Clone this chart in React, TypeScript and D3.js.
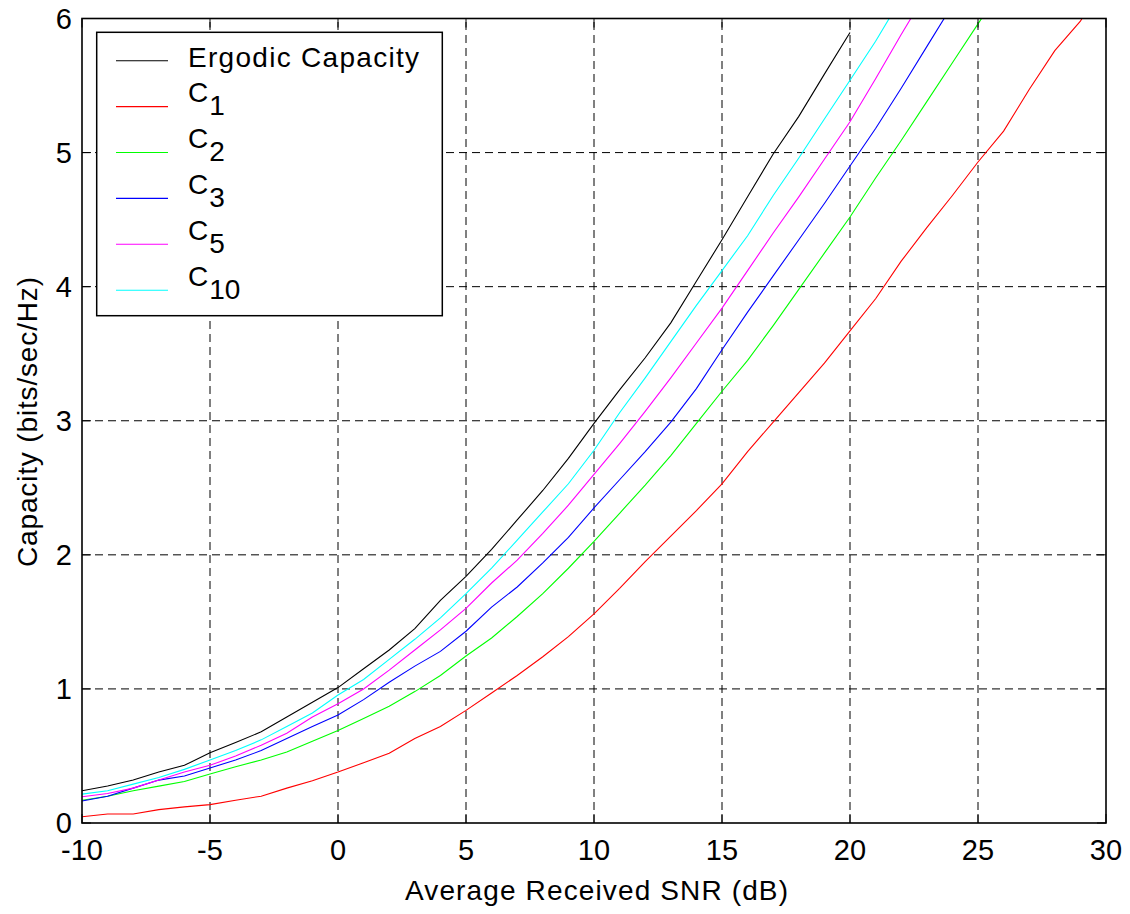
import React from 'react';
import * as d3 from 'd3';

const snrDb = [-10, -9, -8, -7, -6, -5, -4, -3, -2, -1, 0, 1, 2, 3, 4, 5, 6, 7, 8, 9, 10, 11, 12, 13, 14, 15, 16, 17, 18, 19, 20, 21, 22, 23, 24, 25, 26, 27, 28, 29, 30];

const ergodic = [0.24, 0.276, 0.32, 0.38, 0.43, 0.524, 0.60, 0.68, 0.79, 0.90, 1.01, 1.15, 1.29, 1.45, 1.66, 1.84, 2.04, 2.26, 2.48, 2.72, 2.98, 3.23, 3.47, 3.73, 4.04, 4.35, 4.67, 4.99, 5.27, 5.585, 5.896];
const c1 = [0.047, 0.067, 0.067, 0.10, 0.12, 0.137, 0.17, 0.20, 0.26, 0.315, 0.38, 0.45, 0.52, 0.63, 0.72, 0.84, 0.97, 1.10, 1.24, 1.39, 1.56, 1.75, 1.95, 2.14, 2.33, 2.53, 2.77, 2.99, 3.21, 3.43, 3.67, 3.91, 4.19, 4.44, 4.68, 4.93, 5.16, 5.47, 5.76, 5.98, 6.3];
const c2 = [0.17, 0.20, 0.24, 0.275, 0.31, 0.365, 0.42, 0.47, 0.53, 0.61, 0.69, 0.78, 0.87, 0.98, 1.10, 1.245, 1.38, 1.54, 1.71, 1.90, 2.10, 2.31, 2.52, 2.74, 2.98, 3.22, 3.45, 3.71, 3.98, 4.25, 4.52, 4.81, 5.09, 5.38, 5.67, 5.96, 6.25];
const c3 = [0.164, 0.20, 0.26, 0.32, 0.35, 0.41, 0.47, 0.54, 0.63, 0.72, 0.805, 0.92, 1.05, 1.17, 1.28, 1.43, 1.61, 1.76, 1.94, 2.13, 2.35, 2.56, 2.77, 2.99, 3.24, 3.53, 3.81, 4.08, 4.35, 4.62, 4.90, 5.18, 5.48, 5.79, 6.1];
const c5 = [0.196, 0.22, 0.26, 0.32, 0.38, 0.43, 0.50, 0.58, 0.67, 0.79, 0.89, 1.0, 1.14, 1.29, 1.44, 1.60, 1.79, 1.96, 2.16, 2.37, 2.60, 2.83, 3.07, 3.32, 3.58, 3.84, 4.12, 4.40, 4.67, 4.95, 5.23, 5.55, 5.88, 6.2];
const c10 = [0.215, 0.24, 0.29, 0.34, 0.40, 0.47, 0.54, 0.62, 0.72, 0.82, 0.955, 1.07, 1.22, 1.37, 1.53, 1.71, 1.90, 2.11, 2.32, 2.53, 2.78, 3.06, 3.32, 3.59, 3.86, 4.12, 4.38, 4.68, 4.96, 5.25, 5.54, 5.83, 6.15];

const seriesNames = ['Ergodic Capacity', 'C', 'C', 'C', 'C', 'C'];
const seriesSubs = ['', '1', '2', '3', '5', '10'];
const seriesColors = ['#000000', '#ff0000', '#00ff00', '#0000ff', '#ff00ff', '#00ffff'];
const seriesValues = [ergodic, c1, c2, c3, c5, c10];

const xTicks = [-10, -5, 0, 5, 10, 15, 20, 25, 30];
const yTicks = [0, 1, 2, 3, 4, 5, 6];

const W = 1130;
const H = 914;
const L = 82, R = 1106, T = 18.5, B = 823;
const FONT = 'Arial, "Liberation Sans", Helvetica, sans-serif';

export default function App() {
  const x = d3.scaleLinear().domain([-10, 30]).range([L, R]);
  const y = d3.scaleLinear().domain([0, 6]).range([B, T]);
  const line = d3.line<[number, number]>().x(d => x(d[0])).y(d => y(d[1]));
  const tickLen = 9;

  const legX0 = 96.7, legY0 = 32.3, legX1 = 442.3, legY1 = 315.7;
  const legLineY = (i: number) => 60.7 + i * 45.9;

  return (
    <svg width={W} height={H} style={{ position: 'absolute', left: 0, top: 0, background: '#fff' }} fontFamily={FONT}>
      <rect x={0} y={0} width={W} height={H} fill="#fff" />
      <defs>
        <clipPath id="plotClip">
          <rect x={L} y={T} width={R - L} height={B - T} />
        </clipPath>
      </defs>
      {/* grid */}
      <g stroke="#000" strokeWidth={1} strokeDasharray="8,5" fill="none">
        {xTicks.filter(t => t !== -10 && t !== 30).map(t => (
          <line key={'gx' + t} x1={x(t)} x2={x(t)} y1={B} y2={T} />
        ))}
        {yTicks.filter(t => t !== 0 && t !== 6).map(t => (
          <line key={'gy' + t} x1={L} x2={R} y1={y(t)} y2={y(t)} />
        ))}
      </g>
      {/* series */}
      <g clipPath="url(#plotClip)" fill="none" strokeWidth={1.1}>
        {seriesValues.map((vals, i) => (
          <path key={'s' + i} d={line(vals.map((v, k) => [snrDb[k], v] as [number, number])) || ''} stroke={seriesColors[i]} />
        ))}
      </g>
      {/* ticks */}
      <g stroke="#000" strokeWidth={1}>
        {xTicks.map(t => (
          <g key={'tx' + t}>
            <line x1={x(t)} x2={x(t)} y1={B} y2={B - tickLen} />
            <line x1={x(t)} x2={x(t)} y1={T} y2={T + tickLen} />
          </g>
        ))}
        {yTicks.map(t => (
          <g key={'ty' + t}>
            <line x1={L} x2={L + tickLen} y1={y(t)} y2={y(t)} />
            <line x1={R} x2={R - tickLen} y1={y(t)} y2={y(t)} />
          </g>
        ))}
      </g>
      {/* axes box */}
      <rect x={L} y={T} width={R - L} height={B - T} fill="none" stroke="#000" strokeWidth={1.6} />
      {/* tick labels */}
      <g fontSize={29} fill="#000">
        {xTicks.map(t => (
          <text key={'lx' + t} x={x(t)} y={860} textAnchor="middle">{String(t)}</text>
        ))}
        {yTicks.map(t => (
          <text key={'ly' + t} x={72} y={y(t) + 10} textAnchor="end">{String(t)}</text>
        ))}
      </g>
      {/* axis labels */}
      <text x={596.5} y={900} fontSize={28} textAnchor="middle" textLength={383} lengthAdjust="spacing">Average Received SNR (dB)</text>
      <text transform={`translate(36.7,422) rotate(-90)`} fontSize={28} textAnchor="middle" textLength={290} lengthAdjust="spacing">Capacity (bits/sec/Hz)</text>
      {/* legend */}
      <rect x={legX0} y={legY0} width={legX1 - legX0} height={legY1 - legY0} fill="#fff" stroke="#000" strokeWidth={1.5} />
      {seriesNames.map((name, i) => {
        const ly = legLineY(i);
        return (
          <g key={'leg' + i}>
            <line x1={116} x2={168} y1={ly} y2={ly} stroke={seriesColors[i]} strokeWidth={1.1} />
            {seriesSubs[i] === '' ? (
              <text x={188} y={ly + 6} fontSize={28} textLength={231} lengthAdjust="spacing">{name}</text>
            ) : (
              <text x={188} y={ly - 4.5} fontSize={28}>
                {name}
                <tspan dx={1} dy={13}>{seriesSubs[i]}</tspan>
              </text>
            )}
          </g>
        );
      })}
    </svg>
  );
}
